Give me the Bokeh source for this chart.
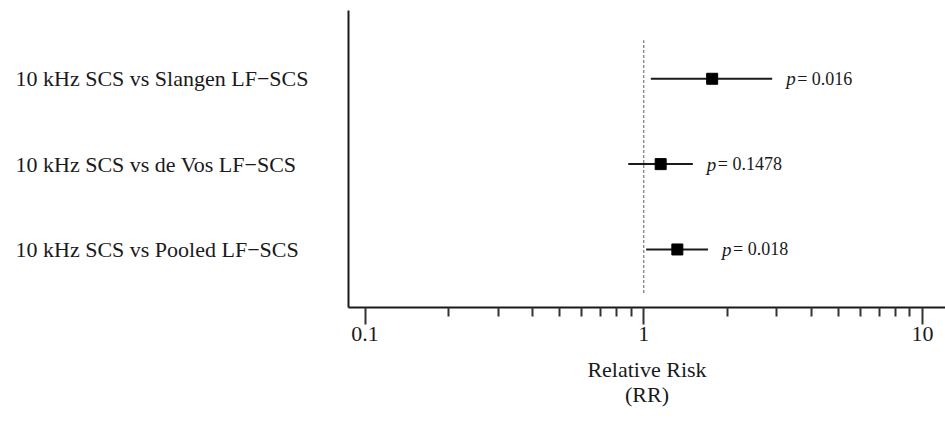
from bokeh.plotting import figure
from bokeh.layouts import row
from bokeh.models import Range1d, FixedTicker, ColumnDataSource
from bokeh.core.properties import value
from bokeh.embed import file_html
from bokeh.resources import INLINE

# ---- data ----
rows = ["10 kHz SCS vs Slangen LF\u2212SCS", "10 kHz SCS vs de Vos LF\u2212SCS", "10 kHz SCS vs Pooled LF\u2212SCS"]
ypos = [3, 2, 1]
rr = [1.76, 1.15, 1.32]
lower = [1.06, 0.88, 1.02]
upper = [2.89, 1.50, 1.70]
pvals = ["= 0.016", "= 0.1478", "= 0.018"]
major_ticks = [0.1, 1, 10]
tick_labels = ["0.1", "1", "10"]
minor_ticks = [0.2, 0.3, 0.4, 0.5, 0.6, 0.7, 0.8, 0.9, 2, 3, 4, 5, 6, 7, 8, 9]

FONT = "Liberation Serif"
INK = "#1a1a1a"
W, H = 945, 423
LEFT_W = 340
TOP, BOTTOM = 10, 116

yr = Range1d(0.32, 3.80)

# ---- left panel with row labels ----
lp = figure(width=LEFT_W, height=H, x_range=Range1d(0, LEFT_W), y_range=yr,
            output_backend="svg", toolbar_location=None,
            min_border_left=0, min_border_right=0, min_border_top=TOP, min_border_bottom=BOTTOM)
lp.axis.visible = False
lp.grid.visible = False
lp.outline_line_color = None
lsrc = ColumnDataSource(dict(y=ypos, name=rows, x=[15] * len(rows)))
lp.text(x="x", y="y", text="name", source=lsrc, text_font=value(FONT), text_font_size="22px",
        text_baseline="middle", text_align="left", text_color=INK)

# ---- main forest plot ----
p = figure(width=W - LEFT_W, height=H, x_axis_type="log",
           x_range=Range1d(0.0872, 12.1), y_range=yr,
           output_backend="svg", toolbar_location=None,
           min_border_left=8, min_border_right=0, min_border_top=TOP, min_border_bottom=BOTTOM)
p.outline_line_color = None
p.grid.visible = False

xa = p.xaxis[0]
xa.ticker = FixedTicker(ticks=major_ticks, minor_ticks=minor_ticks)
xa.major_label_overrides = {t: l for t, l in zip(major_ticks, tick_labels)}
xa.axis_line_color = INK
xa.axis_line_width = 2
xa.major_tick_line_color = "#333333"
xa.major_tick_line_width = 2
xa.major_tick_in = 0
xa.major_tick_out = 17
xa.minor_tick_line_color = "#333333"
xa.minor_tick_line_width = 2
xa.minor_tick_in = 0
xa.minor_tick_out = 9
xa.major_label_text_font = FONT
xa.major_label_text_font_size = "22px"
xa.major_label_text_color = INK
xa.major_label_standoff = 2
xa.axis_label = "Relative Risk\n(RR)"
xa.axis_label_text_font = FONT
xa.axis_label_text_font_size = "22px"
xa.axis_label_text_font_style = "normal"
xa.axis_label_text_line_height = 1.0
xa.axis_label_text_color = INK
xa.axis_label_standoff = 13

ya = p.yaxis[0]
ya.ticker = FixedTicker(ticks=[])
ya.axis_line_color = INK
ya.axis_line_width = 2
ya.major_tick_line_color = None
ya.minor_tick_line_color = None
ya.major_label_text_color = None

src = ColumnDataSource(dict(y=ypos, rr=rr, lo=lower, hi=upper, pv=pvals))

p.segment(x0=1, y0=0.49, x1=1, y1=3.45, line_color="#777777", line_width=1.2, line_dash="3 2")
p.segment(x0="lo", y0="y", x1="hi", y1="y", source=src, line_color=INK, line_width=2)
p.scatter(x="rr", y="y", source=src, marker="square", size=11, fill_color="black", line_color="black")

p.text(x="hi", y="y", text=value("p"), source=src, x_offset=14, text_font=value(FONT),
       text_font_style="italic", text_font_size="19px", text_baseline="middle", text_color=INK)
p.text(x="hi", y="y", text="pv", source=src, x_offset=25, text_font=value(FONT),
       text_font_size="18px", text_baseline="middle", text_color=INK)

layout = row(lp, p, spacing=0)
open("out.html", "w").write(file_html(layout, INLINE))
